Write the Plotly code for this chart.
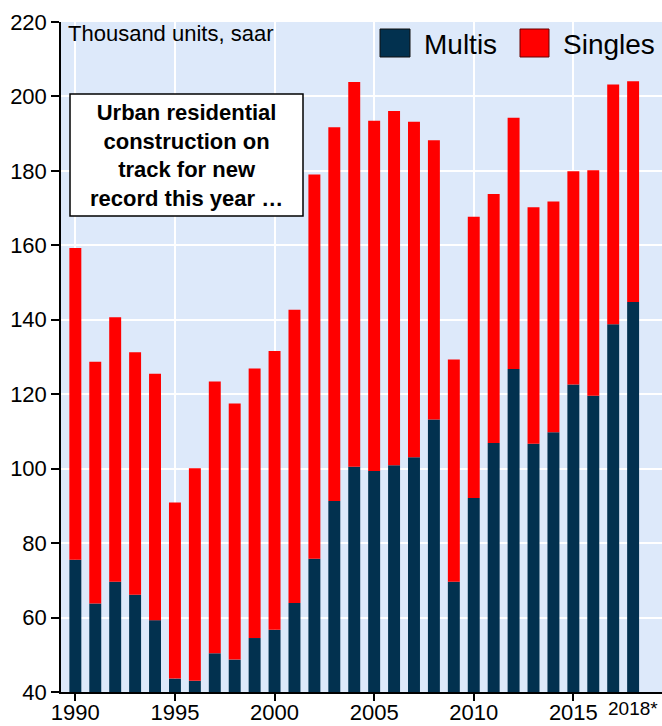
import plotly.graph_objects as go

years = list(range(1990, 2019))
multis = [75.5, 63.8, 69.6, 66.1, 59.3, 43.6, 43.0, 50.4, 48.7, 54.5, 56.7, 63.9, 75.8, 91.3,
          100.5, 99.4, 100.9, 103.1, 113.2, 69.6, 92.1, 106.9, 126.8, 106.7, 109.8, 122.6, 119.6, 138.8, 144.8]
totals = [159.3, 128.7, 140.7, 131.3, 125.5, 90.9, 100.1, 123.4, 117.5, 126.9, 131.6, 142.7, 179.0, 191.7,
          203.9, 193.5, 196.1, 193.2, 188.2, 129.3, 167.7, 173.8, 194.3, 170.2, 171.8, 179.9, 180.2, 203.2, 204.1]
singles = [round(t - m, 1) for t, m in zip(totals, multis)]
x_ticks = [1990, 1995, 2000, 2005, 2010, 2015]
y_ticks = [40, 60, 80, 100, 120, 140, 160, 180, 200, 220]

DARK = "#02314F"
RED = "#FF0000"
BG = "#DDE9FA"
FONT = "Liberation Sans, Arial, sans-serif"

W, H = 662, 726
L, R, T, B = 61, 0, 22, 34
PW, PH = W - L - R, H - T - B

def px(xp):
    return (xp - L) / PW

def py(yp):
    return (H - B - yp) / PH

fig = go.Figure()
fig.add_trace(go.Bar(x=years, y=[m - 40 for m in multis], base=40, name="Multis",
                     marker=dict(color=DARK, line=dict(width=0)), width=0.6))
fig.add_trace(go.Bar(x=years, y=singles, base=multis, name="Singles",
                     marker=dict(color=RED, line=dict(width=0)), width=0.6))

shapes = [
    dict(type="rect", xref="paper", yref="paper", x0=px(380), x1=px(410), y0=py(57), y1=py(29),
         fillcolor=DARK, line=dict(color="#111111", width=1)),
    dict(type="rect", xref="paper", yref="paper", x0=px(520), x1=px(549), y0=py(57), y1=py(29),
         fillcolor=RED, line=dict(color="#660000", width=1)),
    dict(type="rect", xref="paper", yref="paper", x0=px(70), x1=px(303), y0=py(216), y1=py(94),
         fillcolor="white", line=dict(color="black", width=1.5)),
]

annotations = [
    dict(text="Thousand units, saar", xref="paper", yref="paper", x=px(66), y=py(33),
         xanchor="left", yanchor="middle", showarrow=False, font=dict(size=22, color="black", family=FONT)),
    dict(text="Multis", xref="paper", yref="paper", x=px(422), y=py(44),
         xanchor="left", yanchor="middle", showarrow=False, font=dict(size=28, color="black", family=FONT)),
    dict(text="Singles", xref="paper", yref="paper", x=px(561), y=py(44),
         xanchor="left", yanchor="middle", showarrow=False, font=dict(size=28, color="black", family=FONT)),
    dict(text="<b>Urban residential<br>construction on<br>track for new<br>record this year …</b>",
         xref="paper", yref="paper", x=px(186.5), y=py(155), xanchor="center", yanchor="middle",
         showarrow=False, align="center", font=dict(size=22, color="black", family=FONT)),
    dict(text="2018*", xref="x", yref="paper", x=2018, y=py(708), xanchor="center", yanchor="middle",
         showarrow=False, font=dict(size=19, color="black", family=FONT)),
]

fig.update_layout(
    width=W, height=H, margin=dict(l=L, r=R, t=T, b=B, pad=0, autoexpand=False),
    paper_bgcolor="white", plot_bgcolor=BG, barmode="overlay", showlegend=False,
    shapes=shapes, annotations=annotations,
    font=dict(family=FONT, size=22, color="black"),
)
fig.update_xaxes(range=[1989.28, 2019.45], tickvals=x_ticks, ticktext=[str(v) for v in x_ticks],
                 ticks="outside", ticklen=7, tickwidth=1.5, tickcolor="black", ticklabelstandoff=-7,
                 showline=True, linecolor="black", linewidth=1.5, automargin=False,
                 showgrid=True, gridcolor="white", gridwidth=1.5, zeroline=False,
                 tickfont=dict(size=22, family=FONT))
fig.update_yaxes(range=[40, 220], tickvals=y_ticks, ticks="outside", ticklen=8, tickwidth=1.5, tickcolor="black",
                 showline=True, linecolor="black", linewidth=1.5, automargin=False,
                 showgrid=True, gridcolor="white", gridwidth=1.5, zeroline=False,
                 tickfont=dict(size=22, family=FONT))

fig.write_html("out.html", config={"displayModeBar": False},
               post_script="document.body.style.margin='0';document.body.style.overflow='hidden';")
